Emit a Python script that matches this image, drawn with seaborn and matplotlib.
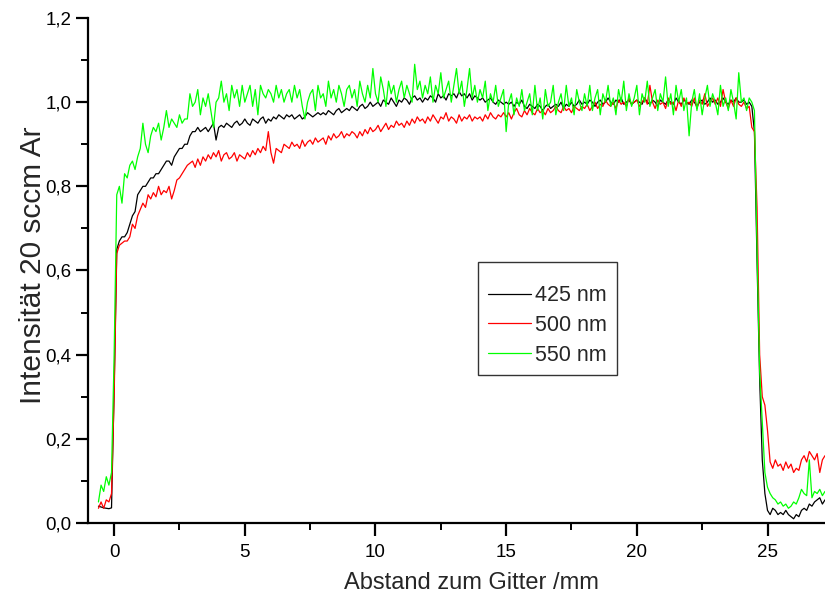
import numpy as np
import pandas as pd
import matplotlib
matplotlib.use("Agg")
import matplotlib.pyplot as plt
from matplotlib.ticker import MultipleLocator, FuncFormatter
import seaborn as sns

# sampling grid of the measurement (mm)
x_start = -0.6
x_step = 0.1

labels = ["425 nm", "500 nm", "550 nm"]
colors = ["#000000", "#ff0000", "#00ff00"]

i425 = [
    0.040, 0.038, 0.036, 0.035, 0.034, 0.036,
    0.32, 0.65, 0.67, 0.68, 0.68, 0.69, 0.71, 0.73, 0.74, 0.78,
    0.79, 0.80, 0.80, 0.81, 0.82, 0.82, 0.83, 0.83, 0.84, 0.85,
    0.86, 0.86, 0.85, 0.87, 0.88, 0.89, 0.89, 0.90, 0.90, 0.92,
    0.93, 0.93, 0.94, 0.93, 0.935, 0.94, 0.93, 0.94, 0.95, 0.91,
    0.94, 0.945, 0.94, 0.95, 0.945, 0.94, 0.95, 0.955, 0.945, 0.95,
    0.96, 0.95, 0.945, 0.96, 0.955, 0.95, 0.96, 0.965, 0.95, 0.96,
    0.955, 0.965, 0.96, 0.97, 0.965, 0.96, 0.97, 0.965, 0.97, 0.96,
    0.965, 0.97, 0.96, 0.965, 0.975, 0.97, 0.965, 0.97, 0.975, 0.97,
    0.975, 0.97, 0.98, 0.975, 0.97, 0.98, 0.985, 0.975, 0.98, 0.985,
    0.98, 0.99, 0.985, 0.98, 0.99, 0.995, 0.985, 0.99, 1.00, 0.99,
    0.995, 1.00, 0.99, 1.005, 1.00, 0.995, 1.01, 1.00, 0.99, 1.005,
    1.00, 1.01, 1.005, 0.995, 1.01, 1.015, 1.005, 1.01, 1.00, 1.01,
    1.005, 1.015, 1.01, 1.00, 1.02, 1.01, 1.015, 1.005, 1.02, 1.015,
    1.02, 1.01, 1.025, 1.015, 1.02, 1.01, 1.02, 1.005, 1.015, 1.01,
    1.005, 1.01, 1.00, 1.005, 1.01, 1.00, 0.995, 1.005, 1.00, 0.995,
    1.00, 0.995, 1.00, 0.99, 1.00, 0.995, 1.005, 0.99, 0.985, 0.995,
    0.99, 0.985, 0.995, 0.99, 0.98, 0.99, 0.995, 0.985, 0.99, 0.995,
    0.99, 1.00, 0.985, 0.995, 0.99, 1.00, 0.99, 0.995, 1.005, 0.995,
    1.00, 0.995, 1.005, 1.00, 0.99, 1.00, 1.005, 0.995, 1.00, 1.01,
    1.00, 0.995, 1.005, 1.00, 1.01, 0.995, 1.00, 1.005, 0.995, 1.00,
    1.005, 1.00, 0.995, 1.01, 1.00, 0.995, 1.005, 1.00, 0.99, 1.005,
    1.00, 0.995, 1.005, 1.00, 0.995, 1.01, 1.00, 0.995, 1.005, 1.00,
    0.995, 1.005, 1.00, 0.99, 1.00, 1.005, 0.995, 1.00, 1.01, 1.00,
    1.005, 0.995, 1.00, 1.01, 1.00, 0.995, 1.005, 1.00, 1.01, 1.00,
    1.00, 1.005, 0.995, 1.00, 0.99, 0.93, 0.62, 0.34, 0.15, 0.07,
    0.03, 0.02, 0.035, 0.03, 0.02, 0.025, 0.02, 0.03, 0.02, 0.015,
    0.01, 0.02, 0.015, 0.03, 0.035, 0.03, 0.045, 0.04, 0.05, 0.055,
    0.06, 0.045, 0.055,
]

i500 = [
    0.035, 0.05, 0.035, 0.055, 0.05, 0.07,
    0.30, 0.64, 0.66, 0.665, 0.67, 0.67, 0.68, 0.71, 0.70, 0.73,
    0.745, 0.76, 0.75, 0.78, 0.77, 0.785, 0.775, 0.80, 0.78, 0.79,
    0.785, 0.80, 0.77, 0.79, 0.815, 0.82, 0.83, 0.84, 0.85, 0.855,
    0.86, 0.845, 0.865, 0.85, 0.87, 0.86, 0.875, 0.865, 0.88, 0.87,
    0.885, 0.86, 0.875, 0.88, 0.865, 0.87, 0.88, 0.86, 0.875, 0.87,
    0.865, 0.88, 0.87, 0.885, 0.875, 0.89, 0.88, 0.895, 0.885, 0.93,
    0.88, 0.855, 0.89, 0.885, 0.88, 0.90, 0.895, 0.89, 0.905, 0.895,
    0.90, 0.89, 0.91, 0.895, 0.905, 0.91, 0.90, 0.915, 0.905, 0.91,
    0.915, 0.90, 0.92, 0.91, 0.925, 0.915, 0.92, 0.93, 0.915, 0.925,
    0.92, 0.93, 0.925, 0.915, 0.93, 0.92, 0.935, 0.925, 0.94, 0.93,
    0.935, 0.945, 0.93, 0.94, 0.95, 0.935, 0.945, 0.94, 0.955, 0.945,
    0.95, 0.94, 0.955, 0.945, 0.96, 0.95, 0.965, 0.955, 0.96, 0.95,
    0.965, 0.955, 0.97, 0.96, 0.95, 0.965, 0.96, 0.975, 0.955, 0.965,
    0.96, 0.95, 0.97, 0.955, 0.965, 0.96, 0.97, 0.955, 0.965, 0.96,
    0.965, 0.955, 0.97, 0.96, 0.975, 0.965, 0.96, 0.97, 0.965, 0.975,
    0.965, 0.975, 0.96, 0.975, 0.985, 0.97, 0.965, 0.98, 0.97, 0.985,
    0.975, 0.97, 0.985, 0.975, 0.98, 0.97, 0.985, 0.975, 0.98, 0.99,
    0.98, 0.975, 0.99, 0.98, 0.985, 0.975, 0.99, 0.985, 0.98, 0.99,
    0.985, 0.995, 0.98, 0.99, 1.00, 0.985, 0.995, 0.99, 1.005, 0.995,
    0.99, 1.00, 0.985, 1.005, 0.995, 1.00, 0.99, 1.01, 0.995, 1.00,
    1.005, 0.99, 1.00, 1.01, 0.995, 1.04, 1.00, 0.985, 1.005, 0.995,
    1.00, 0.985, 1.01, 0.995, 1.00, 0.98, 1.005, 0.99, 1.01, 0.995,
    1.00, 0.99, 1.01, 0.985, 1.005, 0.995, 1.02, 0.99, 1.00, 1.01,
    0.995, 1.01, 0.99, 1.03, 1.00, 0.985, 1.005, 0.99, 1.01, 0.995,
    0.99, 1.00, 0.985, 0.99, 0.94, 0.93, 0.75, 0.40, 0.30, 0.28,
    0.22, 0.145, 0.13, 0.15, 0.135, 0.14, 0.125, 0.145, 0.13, 0.14,
    0.12, 0.13, 0.125, 0.15, 0.16, 0.145, 0.17, 0.16, 0.15, 0.165,
    0.12, 0.15, 0.16,
]

i550 = [
    0.05, 0.09, 0.075, 0.11, 0.09, 0.12,
    0.40, 0.78, 0.80, 0.76, 0.83, 0.82, 0.85, 0.86, 0.84, 0.87,
    0.89, 0.95, 0.90, 0.88, 0.92, 0.94, 0.93, 0.95, 0.91, 0.94,
    0.98, 0.94, 0.96, 0.95, 0.94, 0.97, 0.95, 0.96, 0.96, 1.02,
    0.99, 1.00, 1.03, 0.97, 1.01, 0.99, 1.02, 0.98, 0.94, 1.00,
    1.01, 1.05, 1.00, 1.02, 0.98, 1.04, 1.01, 1.03, 0.99, 1.04,
    1.00, 1.02, 1.04, 0.99, 1.03, 0.97, 1.04, 1.02, 1.01, 1.03,
    1.02, 1.00, 1.04, 1.01, 1.03, 1.00, 1.02, 1.03, 1.00, 1.04,
    1.01, 1.03, 0.99, 0.96, 1.00, 1.02, 1.03, 0.98, 1.04, 1.01,
    1.02, 0.99, 1.05, 1.01, 1.03, 1.00, 1.04, 1.02, 0.99, 1.03,
    1.04, 1.01, 1.03, 0.99, 1.05, 1.02, 1.00, 1.04, 1.01, 1.08,
    1.02, 1.00, 1.06, 1.03, 0.99, 1.05, 1.02, 1.04, 1.00, 1.03,
    1.05, 1.01, 1.04, 1.02, 1.00, 1.09, 1.03, 1.05, 1.01, 1.04,
    1.02, 1.06, 1.00, 1.04, 1.02, 1.07, 1.01, 1.03, 1.05, 1.00,
    1.04, 1.08, 1.02, 1.05, 0.99, 1.03, 1.08, 1.01, 1.04, 1.00,
    1.03, 1.01, 1.05, 0.98, 1.02, 1.00, 1.04, 0.99, 1.01, 1.03,
    0.93, 1.00, 1.02, 0.97, 1.01, 0.99, 1.03, 0.98, 1.00, 1.02,
    0.97, 1.04, 0.98, 1.01, 0.96, 1.03, 0.99, 1.00, 1.04, 0.97,
    1.00, 1.02, 0.98, 1.04, 0.99, 1.01, 0.97, 1.03, 1.00, 0.98,
    1.02, 0.99, 1.04, 0.98, 1.01, 1.03, 0.97, 1.02, 1.00, 1.04,
    0.99, 1.01, 0.97, 1.03, 1.00, 1.05, 0.98, 1.02, 0.99, 1.01,
    1.04, 0.97, 1.02, 1.00, 1.05, 0.99, 1.01, 1.03, 0.98, 1.02,
    1.00, 1.06, 0.99, 1.02, 0.97, 1.04, 1.00, 1.03, 0.98, 1.01,
    0.92, 1.00, 1.03, 0.98, 1.02, 0.97, 1.01, 1.04, 0.99, 1.02,
    1.00, 0.97, 1.04, 0.99, 1.01, 0.98, 1.03, 1.00, 0.96, 1.07,
    1.00, 1.01, 0.98, 1.01, 1.00, 0.98, 0.65, 0.36, 0.24, 0.12,
    0.085, 0.07, 0.06, 0.055, 0.045, 0.05, 0.04, 0.045, 0.035, 0.04,
    0.05, 0.045, 0.06, 0.08, 0.07, 0.065, 0.15, 0.06, 0.075, 0.07,
    0.08, 0.065, 0.075,
]

series = [i425, i500, i550]
n = len(i425)
x = np.round(x_start + x_step * np.arange(n), 2)

df = pd.concat(
    [pd.DataFrame({"x": x, "y": vals, "Wellenlänge": lab}) for vals, lab in zip(series, labels)],
    ignore_index=True,
)

sns.set_style("ticks")
plt.rcParams["font.family"] = ["Liberation Sans", "DejaVu Sans"]

fig = plt.figure(figsize=(8.25, 6.0), dpi=100)
ax = fig.add_axes([88 / 825, 1 - 523 / 600, 1 - 88 / 825, (523 - 18) / 600])

sns.lineplot(data=df, x="x", y="y", hue="Wellenlänge", hue_order=labels,
             palette=colors, estimator=None, sort=False, linewidth=0.9,
             legend=False, ax=ax)

ax.set_xlim(-1.0, 27.2)
ax.set_ylim(0.0, 1.2)
ax.xaxis.set_major_locator(MultipleLocator(5))
ax.xaxis.set_minor_locator(MultipleLocator(2.5))
ax.yaxis.set_major_locator(MultipleLocator(0.2))
ax.yaxis.set_minor_locator(MultipleLocator(0.1))
ax.yaxis.set_major_formatter(FuncFormatter(lambda v, p: f"{v:.1f}".replace(".", ",")))
ax.xaxis.set_major_formatter(FuncFormatter(lambda v, p: f"{v:.0f}"))

for s in ["top", "right"]:
    ax.spines[s].set_visible(False)
for s in ["left", "bottom"]:
    ax.spines[s].set_linewidth(1.6)
    ax.spines[s].set_color("black")

ax.tick_params(axis="both", which="major", direction="out", length=9, width=1.6,
               labelsize=13.5, colors="black")
ax.tick_params(axis="both", which="minor", direction="out", length=5, width=1.4, colors="black")
ax.tick_params(axis="x", which="major", pad=6)
ax.tick_params(axis="y", which="major", pad=3)

ax.set_xlabel("Abstand zum Gitter /mm", fontsize=17)
ax.set_ylabel("Intensität 20 sccm Ar", fontsize=21.5)
ax.xaxis.set_label_coords((471 - 88) / 737, -(583 - 523) / 505, transform=ax.transAxes)
ax.xaxis.label.set_va("center")
ax.yaxis.set_label_coords(-(88 - 33) / 737, (523 - 265) / 505, transform=ax.transAxes)
ax.yaxis.label.set_va("center")

handles = ax.get_lines()[:3]
leg = ax.legend(handles, labels, loc="upper left",
                bbox_to_anchor=(478 / 825, 1 - 262 / 600), bbox_transform=fig.transFigure,
                borderaxespad=0, fontsize=15.5, frameon=True, fancybox=False,
                shadow=False, handlelength=2.0, handletextpad=0.2,
                labelspacing=0.4, borderpad=0.45, title=" ", title_fontsize=4)
leg.get_frame().set_edgecolor("black")
leg.get_frame().set_linewidth(1.0)
for h in leg.get_lines():
    h.set_linewidth(0.9)

fig.savefig("out.png", dpi=100)
